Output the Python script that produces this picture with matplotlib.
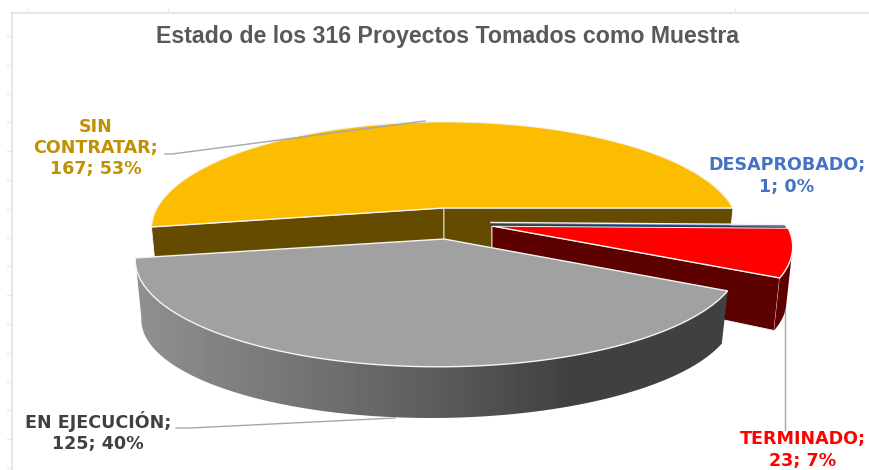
import numpy as np
import matplotlib
matplotlib.use("Agg")
import matplotlib.pyplot as plt
from matplotlib.patches import Polygon

# -------------------
# DATA
# -------------------
TITLE = "Estado de los 316 Proyectos Tomados como Muestra"
NAMES = ["SIN\nCONTRATAR", "EN EJECUCIÓN", "TERMINADO", "DESAPROBADO"]
VALUES = [167, 125, 23, 1]

# -------------------
# STYLE / LAYOUT (pixels)
# -------------------
TOP_COLORS = ["#fcbc00", "#a1a1a1", "#ff0000", "#4472c4"]
SIDE_COLORS = ["#654b00", "#404040", "#5c0000", "#203864"]
LABEL_COLORS = ["#c09000", "#404040", "#ff0000", "#4472c4"]
APEX = [(444, 208), (444, 239), (492, 226), (491, 224)]     # tip of each slice
RIM_X = [445, 438, 494, 491]                                # middle of each rim
RADIUS = [288, 297, 293, 293]
LABEL_POS = [(96, 148), (98, 432), (803, 450), (787, 176)]
LEADERS = [
    [(165, 154), (172, 154), (425, 121)],
    [(176, 428), (190, 428), (395, 418)],
    [(785, 310), (785, 430)],
]

A = 103       # radius along the view direction
K = 0.194     # perspective strength
LOW_A = 97.5  # same for the underside
LOW_DROP = 58
LOW_TILT = -3
LOW_SCALE = 0.98
EDGE = "#f4f4f4"
LEADER = "#a6a6a6"


def rim(theta_deg, i, low=False):
    # circle point -> screen pixel, near side of the pie gets bigger
    t = np.radians(theta_deg)
    u = np.cos(t)
    v = -np.sin(t)
    w = 1 - K * v
    if low:
        x = RIM_X[i] + LOW_SCALE * RADIUS[i] * u / w
        y = APEX[i][1] + LOW_A * v / w + LOW_DROP + LOW_TILT * u
    else:
        x = RIM_X[i] + RADIUS[i] * u / w
        y = APEX[i][1] + A * v / w
    return np.column_stack([x, y])


def main():
    fig = plt.figure(figsize=(8.7, 4.7), dpi=100)
    ax = fig.add_axes([0, 0, 1, 1])
    ax.set_xlim(0, 870)
    ax.set_ylim(470, 0)
    ax.axis("off")

    # bits of the worksheet showing behind the chart
    ax.plot([12, 12], [12, 470], color="#e2e2e2", lw=1.2, zorder=0)
    ax.plot([12, 870], [12.5, 12.5], color="#e2e2e2", lw=1.2, zorder=0)
    for y in np.arange(36, 470, 28.8):
        ax.plot([7, 12], [y, y], color="#e8e8e8", lw=1, zorder=0)
    for x in [27, 168, 735]:
        ax.plot([x, x], [9, 12], color="#e8e8e8", lw=1, zorder=0)

    fractions = np.array(VALUES) / sum(VALUES)
    edges = np.concatenate([[0], np.cumsum(fractions) * 360])

    # back to front: yellow, blue, red, gray
    for rank, i in enumerate([0, 3, 2, 1]):
        z = 2 + rank
        c = APEX[i]
        c_low = (c[0], c[1] + 45)
        th = np.linspace(edges[i], edges[i + 1], 200)
        top = rim(th, i)
        low = rim(th, i, low=True)

        # the two cut faces, far one first
        if i in (0, 2):
            for j in [-1, 0]:
                face = [top[j], c, c_low, low[j]]
                ax.add_patch(Polygon(face, closed=True, fc=SIDE_COLORS[i],
                                     ec=EDGE, lw=0.6, zorder=z))
        # outer wall
        if i == 1:
            wall = Polygon(np.vstack([top, low[::-1]]), closed=True,
                           fc="none", ec="none", zorder=z)
            ax.add_patch(wall)
            shade = np.interp(np.arange(130, 740), [137, 400, 570], [144, 99, 64])
            im = ax.imshow(shade[np.newaxis, :], extent=[130, 740, 430, 250],
                           cmap="gray", vmin=0, vmax=255, aspect="auto", zorder=z)
            im.set_clip_path(wall)
        elif i == 2:
            n = 90
            ax.add_patch(Polygon(np.vstack([top[:n], low[:n][::-1]]), closed=True,
                                 fc=SIDE_COLORS[i], ec="none", zorder=z))
        # top surface
        edge = EDGE if i != 3 else "none"
        ax.add_patch(Polygon(np.vstack([[c], top]), closed=True, fc=TOP_COLORS[i],
                             ec=edge, lw=1.0, zorder=z))
        ax.set_xlim(0, 870)
        ax.set_ylim(470, 0)

    # dark seam of the blue sliver, it sits on the red one
    seam = np.vstack([[APEX[3]], rim(edges[3], 3)])
    ax.plot(seam[:, 0], seam[:, 1] + 1, color=SIDE_COLORS[3], lw=1, zorder=7)
    ax.plot(seam[:, 0], seam[:, 1] - 1.5, color=EDGE, lw=1, zorder=7)

    for pts in LEADERS:
        xs, ys = zip(*pts)
        ax.plot(xs, ys, color=LEADER, lw=1, zorder=8)

    # title and labels
    ax.text(448, 37, TITLE, ha="center", va="center", color="#595959",
            fontsize=16.7, fontweight="bold", family="Liberation Sans")
    for name, val, frac, col, pos in zip(NAMES, VALUES, fractions, LABEL_COLORS, LABEL_POS):
        txt = f"{name};\n{val}; {frac * 100:.0f}%"
        ax.text(pos[0], pos[1], txt, ha="center", va="center", color=col,
                fontsize=12.6, fontweight="bold", family="DejaVu Sans", linespacing=1.22)

    fig.savefig("out.png", dpi=100)


if __name__ == "__main__":
    main()
